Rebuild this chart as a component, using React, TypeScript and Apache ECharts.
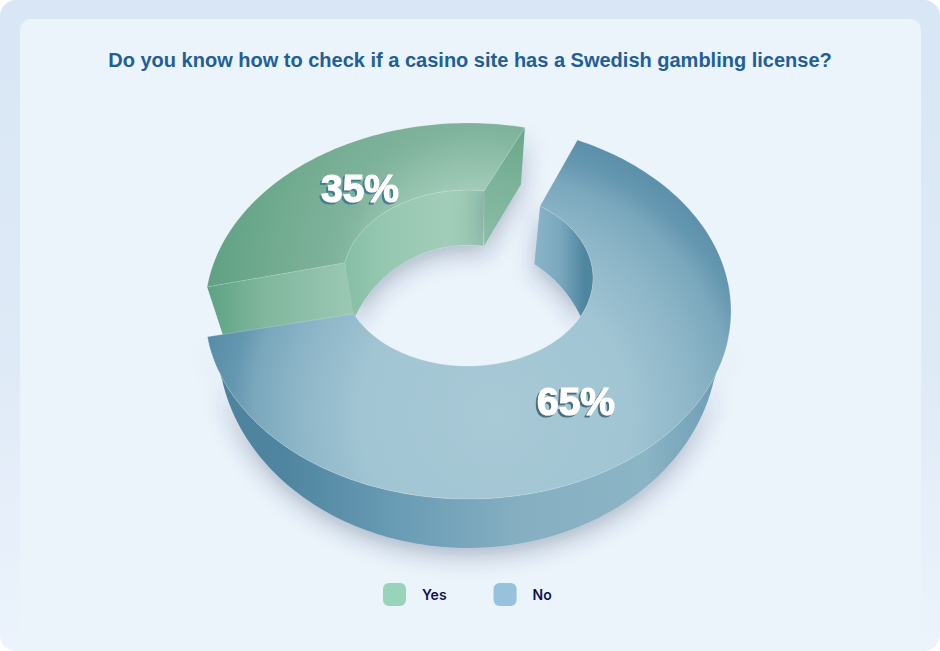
import React, { useEffect, useRef } from "react";
import * as echarts from "echarts";

const titleText = "Do you know how to check if a casino site has a Swedish gambling license?";
const categories = ["Yes", "No"];
const values = [35, 65];
const legendColors = ["#98d4b9", "#95c3de"];
const total = values.reduce((a, b) => a + b, 0);

type E = { cx: number; cy: number; rx: number; ry: number };
const OUT_TOP: E = { cx: 468, cy: 311, rx: 263, ry: 188 };
const IN_TOP: E = { cx: 468, cy: 278, rx: 125, ry: 88 };
const OUT_BOT: E = { cx: 468, cy: 343, rx: 250, ry: 205 };
const IN_BOT: E = { cx: 468, cy: 371, rx: 125, ry: 126 };

const pt = (e: E, deg: number): number[] => {
  const t = (deg * Math.PI) / 180;
  return [e.cx + e.rx * Math.cos(t), e.cy - e.ry * Math.sin(t)];
};
const arc = (e: E, a: number, b: number, n = 90): number[][] => {
  const out: number[][] = [];
  for (let i = 0; i <= n; i++) out.push(pt(e, a + ((b - a) * i) / n));
  return out;
};
const stops = (arr: [number, string][]) => arr.map(([offset, color]) => ({ offset, color }));
const radial = (x: number, y: number, r: number, arr: [number, string][]) => ({
  type: "radial", x, y, r, global: true, colorStops: stops(arr),
});
const linear = (x: number, y: number, x2: number, y2: number, arr: [number, string][]) => ({
  type: "linear", x, y, x2, y2, global: true, colorStops: stops(arr),
});
const poly = (points: number[][], style: any) => ({ type: "polygon", shape: { points }, style });

const SHADOW = { shadowColor: "rgba(40,60,95,0.32)", shadowBlur: 22, shadowOffsetY: 8 };
const EDGE = "rgba(255,255,255,0.16)";
const LABEL_FONT = "bold 39px 'Liberation Sans', Arial, sans-serif";

function share(value: number) {
  return (value / total) * 360;
}

function renderYes(_p: any, api: any) {
  const v = api.value(0);
  // foreshortening of the tilted plane: the far side of the ring is compressed
  const a0 = 77.5, a1 = a0 + share(v) * 0.755;
  const b0 = 82.6, b1 = b0 + share(v) * 0.694;
  const top = [...arc(OUT_TOP, a0, a1), ...arc(IN_TOP, b1, b0)];
  const innerWall = [...arc(IN_TOP, b0, b1), [353, 322], ...arc(IN_BOT, 157, 83)];
  const oA = pt(OUT_TOP, a0), iA = pt(IN_TOP, b0), oB = pt(OUT_TOP, a1), iB = pt(IN_TOP, b1);
  return {
    type: "group",
    children: [
      poly(innerWall, {
        fill: linear(345, 0, 490, 0, [[0, "#86bea5"], [0.25, "#95c7b0"], [0.7, "#a1cdb9"], [1, "#97c6b0"]]),
        stroke: EDGE, lineWidth: 0.5, ...SHADOW,
      }),
      poly([oA, iA, [iA[0], iA[1] + 55], [oA[0] - 4, oA[1] + 57]], {
        fill: linear(525, 127, 484, 245, [[0, "#69a68a"], [0.5, "#7db39b"], [1, "#8abda5"]]),
        ...SHADOW,
      }),
      poly([oB, iB, [iB[0] + 10, iB[1] + 58], [oB[0] + 19, oB[1] + 58]], {
        fill: linear(207, 0, 350, 0, [[0, "#5da283"], [0.4, "#80b79d"], [1, "#9ac8b3"]]),
      }),
      poly(top, {
        fill: radial(478, 270, 270, [[0, "#a3cdbb"], [0.3, "#a0cbb8"], [0.53, "#7fb39b"], [0.7, "#75ad93"], [1, "#60a283"]]),
        stroke: EDGE, lineWidth: 1,
      }),
      {
        type: "text", x: 360, y: 188,
        style: {
          text: `${v}%`, fill: "#ffffff", font: LABEL_FONT, stroke: "#ffffff", lineWidth: 1.2,
          align: "center", verticalAlign: "middle",
          textShadowColor: "#3f7f92", textShadowBlur: 0.6, textShadowOffsetX: -2, textShadowOffsetY: 2,
        },
      },
    ],
  };
}

function renderNo(_p: any, api: any) {
  const v = api.value(0);
  const a0 = 187.9, a1 = a0 + share(v) * 1.015;
  const b1 = 414.8, b0 = b1 - share(v) * 0.901;
  const top = [...arc(OUT_TOP, a0, a1, 180), ...arc(IN_TOP, b1, b0, 120)];
  const outerWall = [...arc(OUT_TOP, a0, 352, 120), ...arc(OUT_BOT, 349, 190.5, 120)];
  const innerWall = [...arc(IN_TOP, b1, 336, 60), ...arc(IN_BOT, 25, 58, 30)];
  return {
    type: "group",
    children: [
      poly(innerWall, {
        fill: linear(534, 0, 594, 0, [[0, "#8bb5c8"], [0.45, "#79a7bd"], [0.85, "#4f859f"], [1, "#4f859f"]]),
        ...SHADOW,
      }),
      poly(outerWall, {
        fill: linear(225, 0, 720, 0, [[0, "#4f839d"], [0.12, "#4f85a0"], [0.35, "#699cb5"], [0.6, "#86afc2"], [0.85, "#8bb4c5"], [1, "#6d9db4"]]),
        ...SHADOW,
      }),
      poly(top, {
        fill: radial(495, 415, 300, [[0, "#a8c9d6"], [0.45, "#a1c5d3"], [0.66, "#8db6c8"], [0.8, "#7ba8bd"], [0.88, "#6497b0"], [1, "#568ba7"]]),
        stroke: "rgba(255,255,255,0.18)", lineWidth: 1,
      }),
      {
        type: "text", x: 576, y: 401,
        style: {
          text: `${v}%`, fill: "#ffffff", font: LABEL_FONT, stroke: "#ffffff", lineWidth: 1.2,
          align: "center", verticalAlign: "middle",
          textShadowColor: "#4c6f7c", textShadowBlur: 0.6, textShadowOffsetX: -2, textShadowOffsetY: 2,
        },
      },
    ],
  };
}

export default function App() {
  const ref = useRef<HTMLDivElement>(null);
  useEffect(() => {
    document.body.style.margin = "0";
    const chart = echarts.init(ref.current!, undefined, { renderer: "svg" });
    chart.setOption({
      animation: false,
      title: {
        text: titleText, left: "center", top: 45,
        textStyle: { color: "#1f5f96", fontSize: 20, fontWeight: "bold", fontFamily: "'Liberation Sans', Arial, sans-serif" },
      },
      legend: {
        left: 378, top: 578, itemWidth: 23, itemHeight: 23, itemGap: 47, icon: "roundRect",
        selectedMode: false,
        data: categories.map((name, i) => ({ name, itemStyle: { color: legendColors[i] } })),
        textStyle: { color: "#12124a", fontSize: 14, fontWeight: 600, fontFamily: "Inter, sans-serif", padding: [0, 0, 0, 11] },
      },
      series: categories.map((name, i) => ({
        type: "custom", name, coordinateSystem: "none", silent: true,
        data: [[values[i]]],
        itemStyle: { color: legendColors[i] },
        renderItem: i === 0 ? renderYes : renderNo,
      })),
    });
    return () => chart.dispose();
  }, []);
  return (
    <div style={{ position: "absolute", left: 0, top: 0, width: 940, height: 651, borderRadius: 16, overflow: "hidden", background: "linear-gradient(180deg,#d8e6f5 0%,#dfeaf7 55%,#ecf3fc 100%)" }}>
      <div style={{ position: "absolute", left: 20, top: 19, width: 901, height: 640, borderRadius: 11, background: "#ebf3fb" }} />
      <div ref={ref} style={{ position: "absolute", left: 0, top: 0, width: 940, height: 651 }} />
    </div>
  );
}
